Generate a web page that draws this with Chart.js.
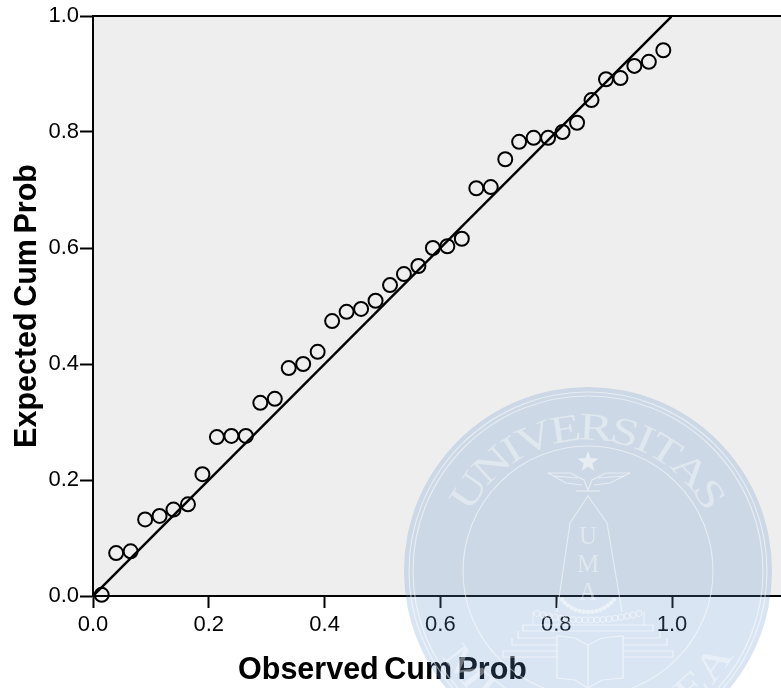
<!DOCTYPE html>
<html>
<head>
<meta charset="utf-8">
<title>Expected Cum Prob</title>
<script src="https://cdn.jsdelivr.net/npm/chart.js@4"></script>
<style>
  body { margin: 0; background: #fff; }
  canvas { display: block; }
</style>
</head>
<body>
<canvas id="ppPlot" width="781" height="688"></canvas>
<script>
// values
const observed = [0.015, 0.040, 0.065, 0.090, 0.115, 0.139, 0.164, 0.189, 0.214, 0.239,
                  0.264, 0.289, 0.314, 0.338, 0.363, 0.388, 0.413, 0.438, 0.463, 0.488,
                  0.513, 0.537, 0.562, 0.587, 0.612, 0.637, 0.662, 0.687, 0.712, 0.736,
                  0.761, 0.786, 0.811, 0.836, 0.861, 0.886, 0.911, 0.935, 0.960, 0.985];
const expected = [0.002, 0.074, 0.077, 0.132, 0.138, 0.149, 0.158, 0.210, 0.274, 0.276,
                  0.276, 0.333, 0.340, 0.393, 0.400, 0.421, 0.474, 0.490, 0.495, 0.509,
                  0.536, 0.555, 0.569, 0.600, 0.603, 0.616, 0.703, 0.705, 0.753, 0.783,
                  0.790, 0.790, 0.800, 0.816, 0.855, 0.891, 0.893, 0.914, 0.921, 0.941];
const diagonalX = [0, 1];
const diagonalY = [0, 1];

const fontName = '"Liberation Sans", Arial, sans-serif';

// grey plot area, runs on to the right edge of the page
const plotFrame = {
  id: 'plotFrame',
  beforeDraw(chart) {
    const { ctx, chartArea, width } = chart;
    ctx.wordSpacing = '-3px';
    ctx.fillStyle = '#eeeeee';
    ctx.fillRect(chartArea.left, chartArea.top, width - chartArea.left, chartArea.bottom - chartArea.top);
  },
  afterDraw(chart) {
    const { ctx, chartArea, width } = chart;
    ctx.save();
    ctx.strokeStyle = '#000';
    ctx.lineWidth = 2;
    ctx.beginPath();
    ctx.moveTo(chartArea.left, chartArea.top);
    ctx.lineTo(width, chartArea.top);
    ctx.moveTo(chartArea.left, chartArea.bottom);
    ctx.lineTo(width, chartArea.bottom);
    ctx.stroke();
    ctx.restore();
    drawSeal(ctx);
  }
};

// text bent along a circle, top: true reads over the top, false along the bottom
function arcText(ctx, text, cx, cy, r, span, top, stretch) {
  const widths = [...text].map(c => ctx.measureText(c).width);
  const total = widths.reduce((a, b) => a + b, 0);
  let used = 0;
  [...text].forEach((c, i) => {
    const mid = (used + widths[i] / 2) / total;
    used += widths[i];
    const a = (mid - 0.5) * span;
    ctx.save();
    if (top) {
      ctx.translate(cx + r * Math.sin(a), cy - r * Math.cos(a));
      ctx.rotate(a);
    } else {
      ctx.translate(cx + r * Math.sin(a), cy + r * Math.cos(a));
      ctx.rotate(-a);
    }
    ctx.scale(stretch, 1);
    ctx.fillText(c, 0, 0);
    ctx.restore();
  });
}

function ring(ctx, cx, cy, r) {
  ctx.beginPath();
  ctx.arc(cx, cy, r, 0, Math.PI * 2);
  ctx.stroke();
}

function poly(ctx, pts, close) {
  ctx.beginPath();
  pts.forEach((p, i) => i ? ctx.lineTo(p[0], p[1]) : ctx.moveTo(p[0], p[1]));
  if (close) ctx.closePath();
  ctx.stroke();
}

// university watermark over the lower right of the picture
function drawSeal(ctx) {
  const cx = 588, cy = 571;
  const line = 'rgba(255,255,255,0.5)';
  ctx.save();
  ctx.wordSpacing = '0px';
  ctx.fillStyle = 'rgba(97,147,205,0.24)';
  ctx.beginPath();
  ctx.arc(cx, cy, 184, 0, Math.PI * 2);
  ctx.fill();

  ctx.strokeStyle = line;
  ctx.lineWidth = 1.2;
  ring(ctx, cx, cy, 179);
  ring(ctx, cx, cy, 175);
  ring(ctx, cx, cy, 125);

  ctx.fillStyle = 'rgba(255,255,255,0.38)';
  ctx.textAlign = 'center';
  ctx.textBaseline = 'alphabetic';
  ctx.font = '39px "Liberation Serif", serif';
  arcText(ctx, 'UNIVERSITAS', cx, cy, 131, 2.2, true, 1.3);
  arcText(ctx, 'MEDAN AREA', cx, cy, 168, 2.1, false, 1.3);

  // star
  const star = [];
  for (let i = 0; i < 10; i++) {
    const r = i % 2 ? 4.5 : 11, a = i * Math.PI / 5;
    star.push([cx + r * Math.sin(a), 462 - r * Math.cos(a)]);
  }
  ctx.fillStyle = 'rgba(255,255,255,0.55)';
  ctx.beginPath();
  star.forEach((p, i) => i ? ctx.lineTo(p[0], p[1]) : ctx.moveTo(p[0], p[1]));
  ctx.closePath();
  ctx.fill();

  // eagle
  poly(ctx, [[548, 473], [570, 473], [584, 480], [588, 490], [592, 480], [606, 473], [630, 473]], false);
  poly(ctx, [[548, 473], [566, 483], [582, 485]], false);
  poly(ctx, [[630, 473], [610, 483], [594, 485]], false);
  poly(ctx, [[554, 476], [578, 478]], false);
  poly(ctx, [[624, 476], [598, 478]], false);
  poly(ctx, [[576, 491], [600, 491]], false);

  // monument
  poly(ctx, [[557, 612], [570, 523], [588, 496], [607, 523], [622, 612]], false);
  ctx.fillStyle = 'rgba(255,255,255,0.38)';
  ctx.font = '25px "Liberation Serif", serif';
  ctx.fillText('U', cx, 544);
  ctx.fillText('M', cx, 572);
  ctx.fillText('A', cx, 600);

  // laurel and chain round the base
  ctx.fillStyle = 'rgba(255,255,255,0.5)';
  for (let i = 0; i < 15; i++) {
    const a = -0.95 + i * 0.135;
    ctx.beginPath();
    ctx.arc(cx + 32 * Math.sin(a), 582 + 30 * Math.cos(a), 2.2, 0, Math.PI * 2);
    ctx.fill();
  }
  ctx.lineWidth = 1;
  for (let i = 0; i < 18; i++) {
    const d = i - 8.5;
    ctx.beginPath();
    ctx.arc(537 + i * 6, 620 - d * d * 0.09, 3, 0, Math.PI * 2);
    ctx.stroke();
  }
  poly(ctx, [[533, 612], [533, 625]], false);
  poly(ctx, [[644, 612], [644, 625]], false);
  ctx.lineWidth = 1.2;

  // steps, broken where the book stands
  poly(ctx, [[523, 631], [653, 631]], false);
  poly(ctx, [[523, 631], [523, 625], [653, 625], [653, 631]], false);
  poly(ctx, [[518, 631], [518, 638], [557, 638]], false);
  poly(ctx, [[660, 631], [660, 638], [623, 638]], false);
  poly(ctx, [[512, 638], [512, 645], [557, 645]], false);
  poly(ctx, [[667, 638], [667, 645], [623, 645]], false);
  poly(ctx, [[503, 651], [557, 651]], false);
  poly(ctx, [[503, 651], [503, 657], [557, 657]], false);
  poly(ctx, [[673, 651], [623, 651]], false);
  poly(ctx, [[673, 651], [673, 657], [623, 657]], false);

  // open book
  poly(ctx, [[588, 645], [575, 638], [557, 636], [557, 678], [575, 680], [588, 688], [602, 680], [623, 678], [623, 636], [602, 638], [588, 645], [588, 688]], false);

  ctx.restore();
}

new Chart(document.getElementById('ppPlot'), {
  type: 'scatter',
  data: {
    datasets: [
      {
        label: 'Observed',
        data: observed.map((x, i) => ({ x: x, y: expected[i] })),
        showLine: false,
        pointStyle: 'circle',
        pointRadius: 7,
        pointBorderWidth: 2,
        pointBorderColor: '#000',
        pointBackgroundColor: 'transparent',
        clip: false
      },
      {
        label: 'Normal line',
        data: diagonalX.map((x, i) => ({ x: x, y: diagonalY[i] })),
        showLine: true,
        borderColor: '#000',
        borderWidth: 2.4,
        pointRadius: 0
      }
    ]
  },
  plugins: [plotFrame],
  options: {
    responsive: false,
    animation: false,
    layout: { padding: { top: 16, right: 109, left: 0, bottom: 0 } },
    plugins: {
      legend: { display: false },
      tooltip: { enabled: false }
    },
    scales: {
      x: {
        min: 0,
        max: 1,
        afterFit: scale => { scale.height = 92; },
        border: { color: '#000', width: 2 },
        grid: { drawOnChartArea: false, drawTicks: true, tickLength: 12, tickWidth: 2, tickColor: '#000' },
        ticks: {
          stepSize: 0.2,
          padding: 4,
          maxRotation: 0,
          color: '#000',
          font: { family: fontName, size: 22 },
          callback: v => v.toFixed(1)
        },
        title: {
          display: true,
          text: 'Observed Cum Prob',
          color: '#000',
          font: { family: fontName, size: 30.5, weight: 'bold', lineHeight: 1 },
          padding: { top: 0, bottom: 2 }
        }
      },
      y: {
        min: 0,
        max: 1,
        afterFit: scale => { scale.width = 93; },
        border: { color: '#000', width: 2 },
        grid: { drawOnChartArea: false, drawTicks: true, tickLength: 13, tickWidth: 2, tickColor: '#000' },
        ticks: {
          stepSize: 0.2,
          padding: 1,
          color: '#000',
          font: { family: fontName, size: 22 },
          callback: v => v.toFixed(1)
        },
        title: {
          display: true,
          text: 'Expected Cum Prob',
          color: '#000',
          font: { family: fontName, size: 30.5, weight: 'bold', lineHeight: 1 },
          padding: { top: 12, bottom: 0 }
        }
      }
    }
  }
});
</script>
</body>
</html>
